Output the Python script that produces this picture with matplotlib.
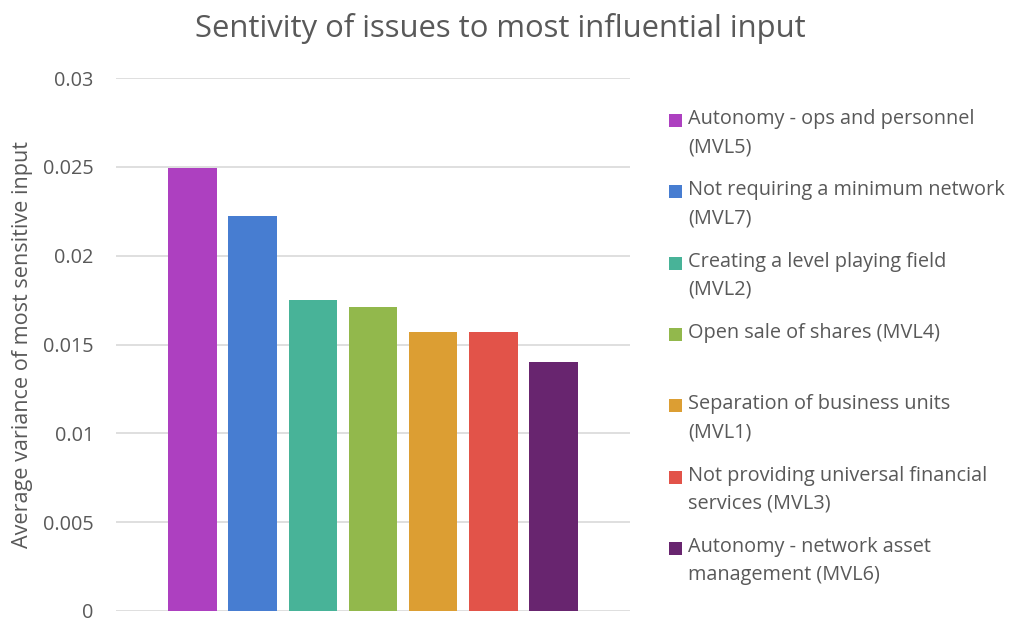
import matplotlib
matplotlib.use("Agg")
import matplotlib.pyplot as plt
from matplotlib.patches import Rectangle

# Data
labels = [
    "Autonomy - ops and personnel\n(MVL5)",
    "Not requiring a minimum network\n(MVL7)",
    "Creating a level playing field\n(MVL2)",
    "Open sale of shares (MVL4)",
    "Separation of business units\n(MVL1)",
    "Not providing universal financial\nservices (MVL3)",
    "Autonomy - network asset\nmanagement (MVL6)",
]
values = [0.02496, 0.02226, 0.01753, 0.01711, 0.01572, 0.01572, 0.01402]
colors = ["#AD40C0", "#477DD1", "#48B398", "#92B84C", "#DC9E33", "#E25349", "#68256F"]
yticks = [0, 0.005, 0.01, 0.015, 0.02, 0.025, 0.03]
ytick_labels = ["0", "0.005", "0.01", "0.015", "0.02", "0.025", "0.03"]

TEXT = "#595959"
GRID = "#D9D9D9"
FONT = "Open Sans"
FS = 14.3

W, H = 1012, 618
fig = plt.figure(figsize=(W / 100, H / 100), dpi=100)
fig.patch.set_facecolor("white")

ax = fig.add_axes([116 / W, 1 - 611 / H, (630 - 116) / W, (611 - 78) / H])
x = list(range(len(values)))
ax.bar(x, values, width=0.805, color=colors, zorder=3)
ax.set_xlim(-1.27, 7.27)
ax.set_ylim(0, 0.03)
ax.set_yticks(yticks)
ax.set_yticklabels(ytick_labels, fontfamily=FONT, fontsize=FS, color=TEXT)
ax.set_xticks([])
ax.tick_params(axis="y", length=0, pad=16)
for s in ax.spines.values():
    s.set_visible(False)
ax.yaxis.grid(True, color=GRID, linewidth=1.2, zorder=0)
ax.set_axisbelow(True)

fig.text(23 / W, 1 - 344 / H, "Average variance of most sensitive input",
         rotation=90, ha="center", va="center", fontfamily=FONT,
         fontsize=15.6, color=TEXT)

fig.text(500 / W, 1 - 28 / H, "Sentivity of issues to most influential input",
         ha="center", va="center", fontfamily=FONT, fontsize=22.3, color=TEXT)

# Legend drawn as a column of colour squares with wrapped labels
slot = 71.3
line_gap = 28.0
for i, (lab, c) in enumerate(zip(labels, colors)):
    yc = 119 + i * slot
    fig.patches.append(Rectangle((669 / W, 1 - (yc + 8) / H), 13 / W, 13 / H,
                                 transform=fig.transFigure, facecolor=c,
                                 edgecolor="none"))
    for k, line in enumerate(lab.split("\n")):
        fig.text(688 / W, 1 - (yc + k * line_gap) / H, line, ha="left",
                 va="center", fontfamily=FONT, fontsize=FS, color=TEXT)

fig.savefig("out.png", dpi=100, facecolor="white")
